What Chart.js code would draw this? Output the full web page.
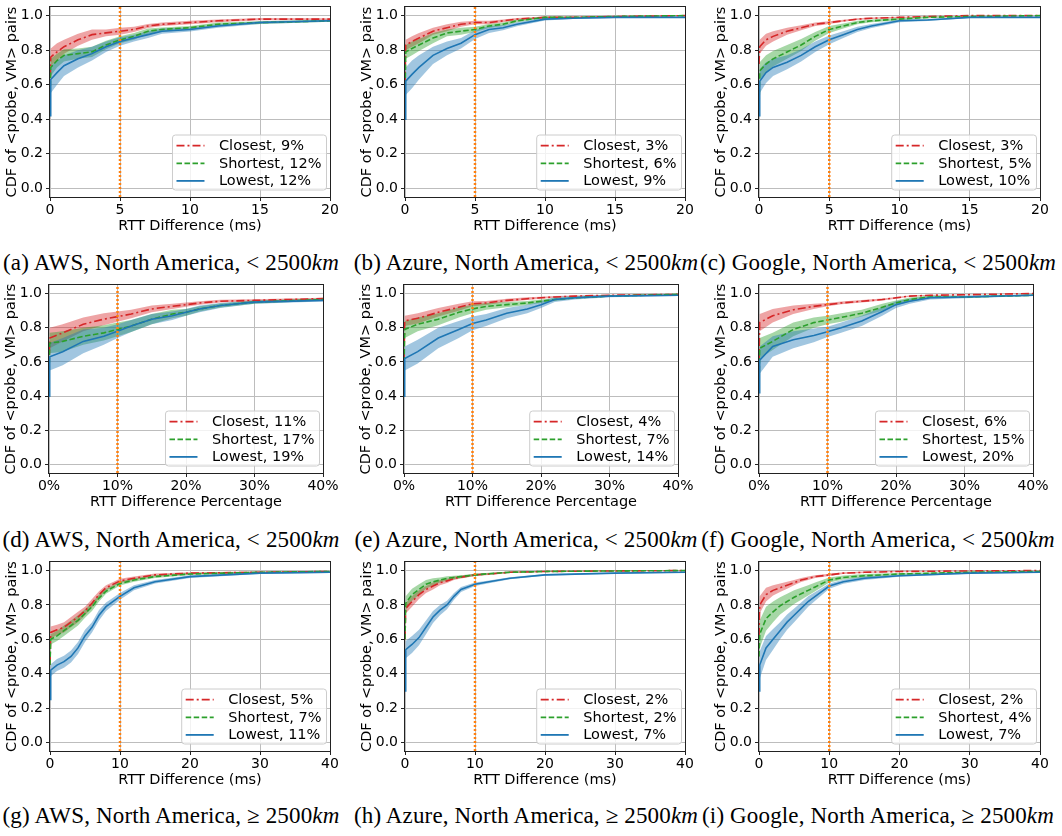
<!DOCTYPE html>
<html><head><meta charset="utf-8">
<script src="https://cdn.jsdelivr.net/npm/chart.js@4.4.1/dist/chart.umd.min.js"></script>
<style>
html,body{margin:0;padding:0;background:#fff;}
#fig{position:relative;width:1062px;height:836px;overflow:hidden;background:#fff;}
#fig canvas{position:absolute;}
.cap{position:absolute;font-family:"Liberation Serif","DejaVu Serif",serif;font-size:23px;line-height:23px;letter-spacing:0.15px;white-space:nowrap;color:#000;transform:translateX(-50%);}
</style></head><body><div id="fig"></div>
<script>
// ---------------- DATA ----------------
const Y_MIN = -0.05, Y_MAX = 1.05;
const Y_TICKS = [0, 0.2, 0.4, 0.6, 0.8, 1.0];
const Y_TICK_LABELS = ['0.0', '0.2', '0.4', '0.6', '0.8', '1.0'];
const Y_TITLE = 'CDF of <probe, VM> pairs';

const X_TICKS_MS20 = [0, 5, 10, 15, 20];
const X_LABELS_MS20 = ['0', '5', '10', '15', '20'];
const X_TICKS_PCT = [0, 10, 20, 30, 40];
const X_LABELS_PCT = ['0%', '10%', '20%', '30%', '40%'];
const X_TICKS_MS40 = [0, 10, 20, 30, 40];
const X_LABELS_MS40 = ['0', '10', '20', '30', '40'];
const X_TITLE_MS = 'RTT Difference (ms)';
const X_TITLE_PCT = 'RTT Difference Percentage';
const VLINE_MS20 = 5, VLINE_PCT = 10, VLINE_MS40 = 10;

const SERIES_NAMES = ['Closest', 'Shortest', 'Lowest'];

// sample positions along x
const X_MS20 = [0, 0.05, 0.5, 1, 2, 3, 4, 5, 6, 7, 8, 10, 12, 15, 20];
const X_PCT  = [0, 0.1, 2, 5, 8, 10, 12, 15, 18, 20, 22, 25, 30, 40];
const X_MS40 = [0, 0.1, 1, 2, 3, 4, 5, 6, 7, 8, 10, 12, 15, 20, 30, 40];

// (a) AWS < 2500km, ms
const A_CLOSEST  = [0.55, 0.76, 0.79, 0.82, 0.86, 0.89, 0.90, 0.91, 0.92, 0.94, 0.95, 0.96, 0.97, 0.98, 0.98];
const A_CLOSEST_W= [0, 0.05, 0.05, 0.04, 0.035, 0.03, 0.02, 0.02, 0.015, 0.012, 0.01, 0.01, 0.008, 0.006, 0.005];
const A_SHORTEST = [0.5, 0.70, 0.74, 0.77, 0.78, 0.79, 0.83, 0.86, 0.88, 0.91, 0.92, 0.93, 0.95, 0.96, 0.97];
const A_SHORTEST_W=[0, 0.05, 0.04, 0.035, 0.03, 0.03, 0.025, 0.02, 0.02, 0.015, 0.012, 0.01, 0.01, 0.008, 0.006];
const A_LOWEST   = [0.42, 0.63, 0.67, 0.71, 0.75, 0.78, 0.82, 0.85, 0.87, 0.89, 0.91, 0.92, 0.94, 0.96, 0.97];
const A_LOWEST_W = [0, 0.08, 0.07, 0.06, 0.05, 0.04, 0.03, 0.025, 0.02, 0.02, 0.015, 0.012, 0.01, 0.008, 0.006];
const PCT_A = ['9%', '12%', '12%'];

// (b) Azure < 2500km, ms
const B_CLOSEST  = [0.6, 0.83, 0.85, 0.87, 0.91, 0.93, 0.95, 0.96, 0.96, 0.97, 0.98, 0.99, 0.99, 0.995, 1.0];
const B_CLOSEST_W= [0, 0.03, 0.03, 0.03, 0.02, 0.02, 0.015, 0.01, 0.01, 0.008, 0.006, 0.005, 0.004, 0.003, 0.002];
const B_SHORTEST = [0.5, 0.79, 0.81, 0.83, 0.87, 0.90, 0.91, 0.92, 0.94, 0.95, 0.97, 0.99, 0.99, 0.995, 1.0];
const B_SHORTEST_W=[0, 0.04, 0.04, 0.035, 0.03, 0.02, 0.02, 0.015, 0.012, 0.01, 0.008, 0.005, 0.004, 0.003, 0.002];
const B_LOWEST   = [0.4, 0.62, 0.66, 0.70, 0.77, 0.81, 0.84, 0.89, 0.92, 0.93, 0.95, 0.98, 0.985, 0.99, 0.99];
const B_LOWEST_W = [0, 0.08, 0.08, 0.07, 0.05, 0.04, 0.03, 0.025, 0.02, 0.015, 0.012, 0.008, 0.005, 0.004, 0.003];
const PCT_B = ['3%', '6%', '9%'];

// (c) Google < 2500km, ms
const C_CLOSEST  = [0.72, 0.82, 0.86, 0.88, 0.91, 0.93, 0.95, 0.96, 0.97, 0.98, 0.985, 0.99, 0.995, 1.0, 1.0];
const C_CLOSEST_W= [0, 0.04, 0.035, 0.03, 0.02, 0.015, 0.01, 0.008, 0.006, 0.005, 0.004, 0.003, 0.002, 0.001, 0.001];
const C_SHORTEST = [0.45, 0.68, 0.72, 0.75, 0.79, 0.83, 0.88, 0.92, 0.94, 0.96, 0.97, 0.98, 0.99, 0.995, 1.0];
const C_SHORTEST_W=[0, 0.05, 0.05, 0.045, 0.04, 0.035, 0.025, 0.02, 0.015, 0.01, 0.008, 0.006, 0.005, 0.003, 0.002];
const C_LOWEST   = [0.42, 0.62, 0.67, 0.70, 0.73, 0.77, 0.82, 0.86, 0.89, 0.92, 0.94, 0.97, 0.975, 0.99, 0.99];
const C_LOWEST_W = [0, 0.07, 0.06, 0.05, 0.04, 0.035, 0.03, 0.025, 0.02, 0.015, 0.012, 0.008, 0.006, 0.004, 0.003];
const PCT_C = ['3%', '5%', '10%'];

// (d) AWS < 2500km, percentage
const D_CLOSEST  = [0.55, 0.74, 0.77, 0.82, 0.85, 0.865, 0.88, 0.91, 0.925, 0.935, 0.945, 0.955, 0.96, 0.97];
const D_CLOSEST_W= [0, 0.06, 0.05, 0.04, 0.035, 0.03, 0.025, 0.02, 0.015, 0.012, 0.01, 0.008, 0.007, 0.005];
const D_SHORTEST = [0.5, 0.71, 0.72, 0.75, 0.77, 0.79, 0.81, 0.85, 0.88, 0.89, 0.91, 0.93, 0.95, 0.965];
const D_SHORTEST_W=[0, 0.06, 0.06, 0.05, 0.045, 0.04, 0.035, 0.03, 0.025, 0.02, 0.015, 0.012, 0.01, 0.006];
const D_LOWEST   = [0.4, 0.63, 0.66, 0.72, 0.75, 0.78, 0.81, 0.85, 0.87, 0.89, 0.91, 0.93, 0.95, 0.96];
const D_LOWEST_W = [0, 0.08, 0.08, 0.07, 0.05, 0.04, 0.035, 0.03, 0.025, 0.02, 0.02, 0.015, 0.01, 0.006];
const PCT_D = ['11%', '17%', '19%'];

// (e) Azure < 2500km, percentage
const E_CLOSEST  = [0.6, 0.84, 0.855, 0.89, 0.92, 0.94, 0.945, 0.96, 0.97, 0.975, 0.98, 0.985, 0.99, 0.995];
const E_CLOSEST_W= [0, 0.03, 0.03, 0.025, 0.02, 0.015, 0.012, 0.01, 0.008, 0.006, 0.005, 0.004, 0.003, 0.002];
const E_SHORTEST = [0.55, 0.79, 0.82, 0.85, 0.89, 0.91, 0.925, 0.935, 0.945, 0.955, 0.965, 0.975, 0.985, 0.995];
const E_SHORTEST_W=[0, 0.05, 0.04, 0.035, 0.03, 0.025, 0.02, 0.015, 0.012, 0.01, 0.008, 0.006, 0.004, 0.003];
const E_LOWEST   = [0.4, 0.62, 0.66, 0.74, 0.79, 0.825, 0.845, 0.885, 0.91, 0.935, 0.965, 0.975, 0.985, 0.99];
const E_LOWEST_W = [0, 0.07, 0.07, 0.06, 0.05, 0.04, 0.035, 0.03, 0.025, 0.02, 0.015, 0.01, 0.006, 0.004];
const PCT_E = ['4%', '7%', '14%'];

// (f) Google < 2500km, percentage
const F_CLOSEST  = [0.6, 0.83, 0.87, 0.905, 0.925, 0.935, 0.945, 0.955, 0.965, 0.975, 0.985, 0.99, 0.993, 1.0];
const F_CLOSEST_W= [0, 0.05, 0.04, 0.025, 0.015, 0.01, 0.008, 0.007, 0.006, 0.005, 0.004, 0.003, 0.002, 0.001];
const F_SHORTEST = [0.45, 0.68, 0.72, 0.79, 0.83, 0.845, 0.86, 0.885, 0.92, 0.945, 0.965, 0.98, 0.98, 0.99];
const F_SHORTEST_W=[0, 0.06, 0.05, 0.04, 0.03, 0.025, 0.025, 0.02, 0.02, 0.015, 0.012, 0.008, 0.006, 0.004];
const F_LOWEST   = [0.42, 0.61, 0.69, 0.73, 0.755, 0.776, 0.80, 0.84, 0.895, 0.935, 0.955, 0.975, 0.98, 0.99];
const F_LOWEST_W = [0, 0.08, 0.06, 0.05, 0.04, 0.03, 0.03, 0.03, 0.025, 0.02, 0.015, 0.01, 0.008, 0.005];
const PCT_F = ['6%', '15%', '20%'];

// (g) AWS >= 2500km, ms
const G_CLOSEST  = [0.45, 0.64, 0.655, 0.67, 0.70, 0.73, 0.765, 0.81, 0.86, 0.90, 0.94, 0.955, 0.975, 0.985, 0.99, 0.995];
const G_CLOSEST_W= [0, 0.035, 0.03, 0.03, 0.03, 0.03, 0.025, 0.025, 0.02, 0.015, 0.012, 0.01, 0.008, 0.006, 0.004, 0.003];
const G_SHORTEST = [0.45, 0.60, 0.62, 0.65, 0.68, 0.71, 0.75, 0.79, 0.84, 0.88, 0.925, 0.945, 0.965, 0.98, 0.99, 0.995];
const G_SHORTEST_W=[0, 0.03, 0.03, 0.03, 0.03, 0.03, 0.025, 0.025, 0.02, 0.015, 0.012, 0.01, 0.008, 0.006, 0.004, 0.003];
const G_LOWEST   = [0.25, 0.42, 0.45, 0.47, 0.50, 0.55, 0.62, 0.67, 0.74, 0.79, 0.85, 0.90, 0.935, 0.965, 0.985, 0.99];
const G_LOWEST_W = [0, 0.035, 0.035, 0.035, 0.035, 0.035, 0.035, 0.03, 0.03, 0.025, 0.02, 0.015, 0.01, 0.008, 0.005, 0.004];
const PCT_G = ['5%', '7%', '11%'];

// (h) Azure >= 2500km, ms
const H_CLOSEST  = [0.6, 0.78, 0.82, 0.86, 0.89, 0.91, 0.93, 0.94, 0.955, 0.962, 0.975, 0.98, 0.99, 0.995, 0.998, 1.0];
const H_CLOSEST_W= [0, 0.03, 0.03, 0.025, 0.02, 0.02, 0.015, 0.012, 0.01, 0.008, 0.006, 0.005, 0.004, 0.003, 0.002, 0.001];
const H_SHORTEST = [0.6, 0.81, 0.86, 0.89, 0.92, 0.935, 0.945, 0.955, 0.96, 0.965, 0.975, 0.982, 0.99, 0.995, 0.998, 1.0];
const H_SHORTEST_W=[0, 0.04, 0.035, 0.03, 0.025, 0.02, 0.015, 0.012, 0.01, 0.008, 0.006, 0.005, 0.004, 0.003, 0.002, 0.001];
const H_LOWEST   = [0.3, 0.54, 0.57, 0.61, 0.67, 0.73, 0.77, 0.80, 0.85, 0.89, 0.92, 0.935, 0.955, 0.975, 0.985, 0.99];
const H_LOWEST_W = [0, 0.05, 0.05, 0.045, 0.04, 0.035, 0.03, 0.025, 0.02, 0.015, 0.01, 0.008, 0.006, 0.005, 0.004, 0.003];
const PCT_H = ['2%', '2%', '7%'];

// (i) Google >= 2500km, ms
const I_CLOSEST  = [0.62, 0.80, 0.86, 0.885, 0.90, 0.915, 0.93, 0.945, 0.955, 0.965, 0.975, 0.985, 0.99, 0.995, 0.998, 1.0];
const I_CLOSEST_W= [0, 0.05, 0.04, 0.03, 0.025, 0.02, 0.015, 0.012, 0.01, 0.008, 0.006, 0.005, 0.004, 0.003, 0.002, 0.001];
const I_SHORTEST = [0.5, 0.63, 0.72, 0.76, 0.795, 0.82, 0.845, 0.865, 0.885, 0.905, 0.945, 0.96, 0.97, 0.98, 0.99, 0.995];
const I_SHORTEST_W=[0, 0.08, 0.07, 0.06, 0.05, 0.045, 0.04, 0.035, 0.03, 0.025, 0.015, 0.012, 0.01, 0.006, 0.004, 0.003];
const I_LOWEST   = [0.3, 0.45, 0.55, 0.60, 0.65, 0.70, 0.74, 0.78, 0.82, 0.85, 0.91, 0.935, 0.955, 0.97, 0.985, 0.99];
const I_LOWEST_W = [0, 0.08, 0.07, 0.06, 0.05, 0.045, 0.04, 0.035, 0.03, 0.025, 0.015, 0.012, 0.01, 0.006, 0.004, 0.003];
const PCT_I = ['2%', '4%', '7%'];

const CAPTION_LETTERS = ['a', 'b', 'c', 'd', 'e', 'f', 'g', 'h', 'i'];
const CAPTION_PROVIDERS = ['AWS', 'Azure', 'Google'];
const CAPTION_REGION = 'North America';
const CAPTION_CONDITIONS = ['<', '<', '\u2265'];
const CAPTION_DISTANCE = '2500';

// ---------------- STYLE / LAYOUT ----------------
const STYLE = [
  {color: '#d62728', band: 'rgba(214,39,40,0.42)', dash: [8, 3, 2, 3]},
  {color: '#2ca02c', band: 'rgba(44,160,44,0.42)', dash: [5.5, 2.5]},
  {color: '#1f77b4', band: 'rgba(31,119,180,0.42)', dash: []}
];
const ORANGE = '#ff7f0e';
const ROWS = [{T: 7, B: 197, cap: 251}, {T: 285, B: 473, cap: 528}, {T: 562, B: 751, cap: 804}];
const COLS = [
  [{L: 50, R: 330}, {L: 405, R: 685}, {L: 759, R: 1040}],
  [{L: 49, R: 323}, {L: 404, R: 678}, {L: 759, R: 1033}],
  [{L: 50, R: 330}, {L: 405, R: 685}, {L: 759, R: 1040}]
];
const CAP_CENTERS = [171, 526, 878];
const TICK_FONT = 14, LABEL_FONT = 14.5, LEGEND_FONT = 14.5;

const PANELS = [
  {x: X_MS20, xmax: 20, ticks: X_TICKS_MS20, labels: X_LABELS_MS20, xTitle: X_TITLE_MS, vline: VLINE_MS20, mean: [A_CLOSEST, A_SHORTEST, A_LOWEST], half: [A_CLOSEST_W, A_SHORTEST_W, A_LOWEST_W], pct: PCT_A},
  {x: X_MS20, xmax: 20, ticks: X_TICKS_MS20, labels: X_LABELS_MS20, xTitle: X_TITLE_MS, vline: VLINE_MS20, mean: [B_CLOSEST, B_SHORTEST, B_LOWEST], half: [B_CLOSEST_W, B_SHORTEST_W, B_LOWEST_W], pct: PCT_B},
  {x: X_MS20, xmax: 20, ticks: X_TICKS_MS20, labels: X_LABELS_MS20, xTitle: X_TITLE_MS, vline: VLINE_MS20, mean: [C_CLOSEST, C_SHORTEST, C_LOWEST], half: [C_CLOSEST_W, C_SHORTEST_W, C_LOWEST_W], pct: PCT_C},
  {x: X_PCT, xmax: 40, ticks: X_TICKS_PCT, labels: X_LABELS_PCT, xTitle: X_TITLE_PCT, vline: VLINE_PCT, mean: [D_CLOSEST, D_SHORTEST, D_LOWEST], half: [D_CLOSEST_W, D_SHORTEST_W, D_LOWEST_W], pct: PCT_D},
  {x: X_PCT, xmax: 40, ticks: X_TICKS_PCT, labels: X_LABELS_PCT, xTitle: X_TITLE_PCT, vline: VLINE_PCT, mean: [E_CLOSEST, E_SHORTEST, E_LOWEST], half: [E_CLOSEST_W, E_SHORTEST_W, E_LOWEST_W], pct: PCT_E},
  {x: X_PCT, xmax: 40, ticks: X_TICKS_PCT, labels: X_LABELS_PCT, xTitle: X_TITLE_PCT, vline: VLINE_PCT, mean: [F_CLOSEST, F_SHORTEST, F_LOWEST], half: [F_CLOSEST_W, F_SHORTEST_W, F_LOWEST_W], pct: PCT_F},
  {x: X_MS40, xmax: 40, ticks: X_TICKS_MS40, labels: X_LABELS_MS40, xTitle: X_TITLE_MS, vline: VLINE_MS40, mean: [G_CLOSEST, G_SHORTEST, G_LOWEST], half: [G_CLOSEST_W, G_SHORTEST_W, G_LOWEST_W], pct: PCT_G},
  {x: X_MS40, xmax: 40, ticks: X_TICKS_MS40, labels: X_LABELS_MS40, xTitle: X_TITLE_MS, vline: VLINE_MS40, mean: [H_CLOSEST, H_SHORTEST, H_LOWEST], half: [H_CLOSEST_W, H_SHORTEST_W, H_LOWEST_W], pct: PCT_H},
  {x: X_MS40, xmax: 40, ticks: X_TICKS_MS40, labels: X_LABELS_MS40, xTitle: X_TITLE_MS, vline: VLINE_MS40, mean: [I_CLOSEST, I_SHORTEST, I_LOWEST], half: [I_CLOSEST_W, I_SHORTEST_W, I_LOWEST_W], pct: PCT_I}
];

// ---------------- PLUGINS ----------------
const framePlugin = {
  id: 'frame',
  afterDatasetsDraw(chart) {
    const {ctx, chartArea: a} = chart;
    ctx.save();
    ctx.strokeStyle = '#222';
    ctx.lineWidth = 1;
    ctx.setLineDash([]);
    const l = Math.round(a.left) - 0.5, t = Math.round(a.top) - 0.5;
    const r = Math.round(a.right) + 0.5, b = Math.round(a.bottom) + 0.5;
    ctx.strokeRect(l, t, r - l, b - t);
    ctx.restore();
  }
};

const boxLegendPlugin = {
  id: 'boxLegend',
  afterDraw(chart) {
    const {ctx, chartArea: a} = chart;
    const items = chart.data.datasets.filter(d => d.legendText);
    ctx.save();
    ctx.font = LEGEND_FONT + 'px "DejaVu Sans"';
    const tw = Math.max(...items.map(d => ctx.measureText(d.legendText).width));
    const bw = 46.5 + tw + 5, bh = 55;
    const bx = a.right - 3.5 - bw, by = a.bottom - 7 - bh;
    ctx.beginPath();
    ctx.roundRect(bx, by, bw, bh, 3);
    ctx.fillStyle = 'rgba(255,255,255,0.8)';
    ctx.fill();
    ctx.strokeStyle = '#cccccc';
    ctx.lineWidth = 1;
    ctx.stroke();
    items.forEach((d, i) => {
      const y = by + 10.7 + i * 17.6;
      ctx.beginPath();
      ctx.setLineDash(d.borderDash || []);
      ctx.strokeStyle = d.borderColor;
      ctx.lineWidth = 1.8;
      ctx.moveTo(bx + 4, y);
      ctx.lineTo(bx + 32, y);
      ctx.stroke();
      ctx.setLineDash([]);
      ctx.fillStyle = '#000';
      ctx.textBaseline = 'middle';
      ctx.textAlign = 'left';
      ctx.fillText(d.legendText, bx + 46.5, y + 0.5);
    });
    ctx.restore();
  }
};

Chart.defaults.font.family = '"DejaVu Sans", sans-serif';
Chart.defaults.color = '#000';

const fig = document.getElementById('fig');
const YW = 50, XH = 42, PADT = 8, PADR = 20;

PANELS.forEach((p, idx) => {
  const row = Math.floor(idx / 3), col = idx % 3;
  const {T, B} = ROWS[row];
  const {L, R} = COLS[row][col];
  const cl = L - YW, ct = T - PADT;
  const W = R + PADR - cl, H = B + XH - ct;
  const canvas = document.createElement('canvas');
  canvas.width = W; canvas.height = H;
  canvas.style.left = cl + 'px'; canvas.style.top = ct + 'px';
  canvas.style.width = W + 'px'; canvas.style.height = H + 'px';
  fig.appendChild(canvas);

  const datasets = [];
  datasets.push({
    data: [{x: p.vline, y: Y_MIN}, {x: p.vline, y: Y_MAX}],
    borderColor: ORANGE, borderWidth: 2.5, borderDash: [2, 2], pointRadius: 0, fill: false, order: 0
  });
  STYLE.forEach((s, k) => {
    datasets.push({
      data: p.x.map((x, i) => ({x: x, y: p.mean[k][i]})),
      borderColor: s.color, borderWidth: 1.6, borderDash: s.dash,
      pointRadius: 0, fill: false, order: 3 - k,
      legendText: SERIES_NAMES[k] + ', ' + p.pct[k]
    });
  });
  STYLE.forEach((s, k) => {
    const loIdx = datasets.length;
    datasets.push({
      data: p.x.map((x, i) => ({x: x, y: p.mean[k][i] - p.half[k][i]})),
      borderColor: 'rgba(0,0,0,0)', borderWidth: 0, pointRadius: 0, fill: false, order: 22 - k
    });
    datasets.push({
      data: p.x.map((x, i) => ({x: x, y: Math.min(1, p.mean[k][i] + p.half[k][i])})),
      borderColor: 'rgba(0,0,0,0)', borderWidth: 0, pointRadius: 0,
      fill: loIdx, backgroundColor: s.band, order: 22 - k
    });
  });

  new Chart(canvas, {
    type: 'line',
    data: {datasets},
    plugins: [framePlugin, boxLegendPlugin],
    options: {
      responsive: false, animation: false, devicePixelRatio: 1,
      layout: {padding: {left: 0, top: PADT, right: PADR, bottom: 0}},
      elements: {line: {tension: 0}, point: {radius: 0}},
      plugins: {legend: {display: false}, tooltip: {enabled: false}},
      scales: {
        x: {
          type: 'linear', min: 0, max: p.xmax,
          afterBuildTicks: sc => { sc.ticks = p.ticks.map(v => ({value: v})); },
          afterFit: sc => { sc.height = XH; sc.paddingLeft = 0; sc.paddingRight = 0; },
          ticks: {autoSkip: false, maxRotation: 0, minRotation: 0, padding: 1, color: '#000',
                  font: {size: TICK_FONT}, callback: (v, i) => p.labels[i]},
          grid: {color: '#bdbdbd', lineWidth: 1, drawTicks: true, tickLength: 4, tickColor: '#222', tickWidth: 1},
          border: {display: false},
          title: {display: true, text: p.xTitle, color: '#000', font: {size: LABEL_FONT}, padding: {top: 4, bottom: 4}}
        },
        y: {
          type: 'linear', min: Y_MIN, max: Y_MAX,
          afterBuildTicks: sc => { sc.ticks = Y_TICKS.map(v => ({value: v})); },
          afterFit: sc => { sc.width = YW; sc.paddingTop = 0; sc.paddingBottom = 0; },
          ticks: {autoSkip: false, padding: 3, color: '#000', font: {size: TICK_FONT},
                  callback: (v, i) => Y_TICK_LABELS[i]},
          grid: {color: '#bdbdbd', lineWidth: 1, drawTicks: true, tickLength: 4, tickColor: '#222', tickWidth: 1},
          border: {display: false},
          title: {display: true, text: Y_TITLE, color: '#000', font: {size: LABEL_FONT}, padding: {top: 4, bottom: 4}}
        }
      }
    }
  });

  const cap = document.createElement('div');
  cap.className = 'cap';
  cap.style.left = CAP_CENTERS[col] + 'px';
  cap.style.top = ROWS[row].cap + 'px';
  const t1 = document.createTextNode('(' + CAPTION_LETTERS[idx] + ') ' + CAPTION_PROVIDERS[col] + ', ' +
    CAPTION_REGION + ', ' + CAPTION_CONDITIONS[row] + ' ' + CAPTION_DISTANCE);
  const it = document.createElement('i');
  it.textContent = 'km';
  cap.appendChild(t1); cap.appendChild(it);
  fig.appendChild(cap);
});
</script></body></html>
